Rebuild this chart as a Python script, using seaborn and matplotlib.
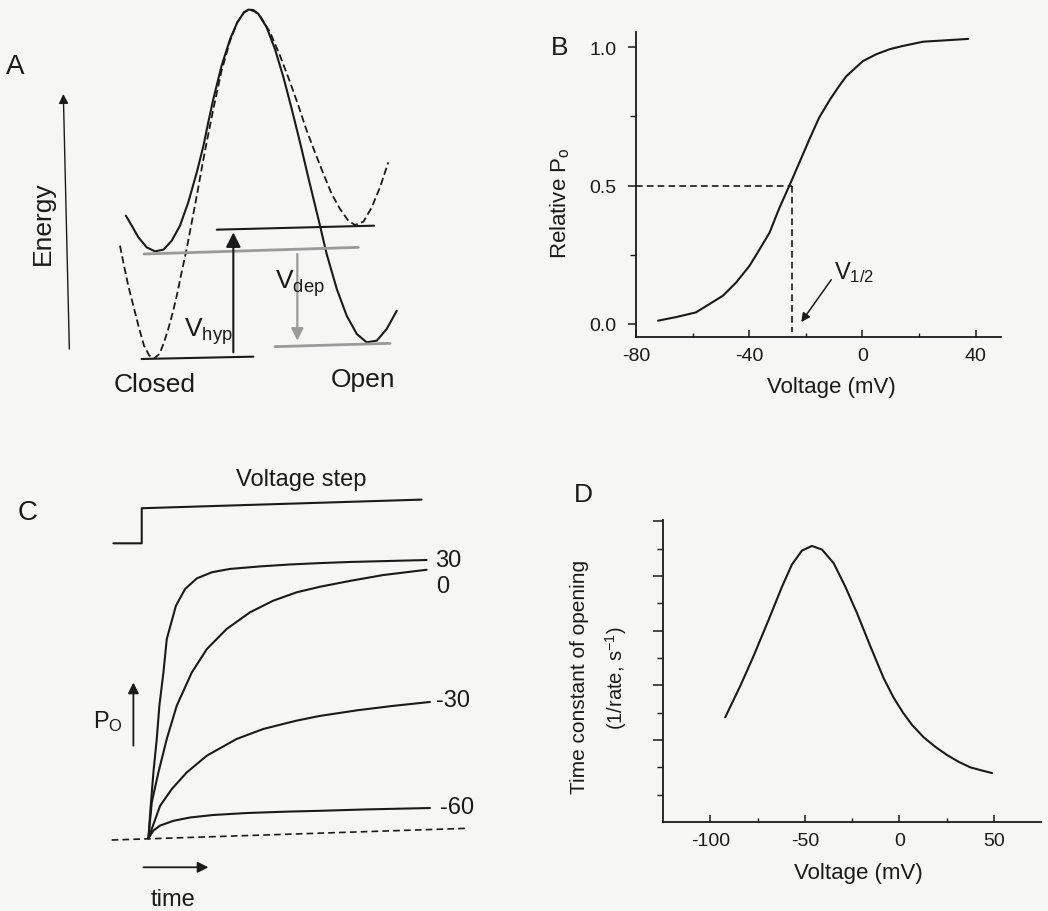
import matplotlib
matplotlib.use("Agg")
import matplotlib.pyplot as plt
import seaborn as sns

# ---- panel A: energy landscape (reaction coordinate vs energy, arbitrary units)
a_solid_q = [-0.03, 0.19, 0.44, 0.75, 1.06, 1.38, 1.69, 2.0, 2.31, 2.63, 2.88, 3.06, 3.25,
             3.56, 3.88, 4.15, 4.4, 4.56, 4.75, 4.94, 5.25, 5.56, 5.88, 6.19, 6.5, 6.81,
             7.19, 7.5, 7.88, 8.25, 8.63, 9.0, 9.38, 9.75, 10.13]
a_solid_e = [4.30, 4.00, 3.65, 3.35, 3.23, 3.28, 3.55, 4.00, 4.70, 5.60, 6.40, 7.10, 7.80,
             8.80, 9.60, 10.10, 10.40, 10.48, 10.47, 10.35, 9.95, 9.30, 8.45, 7.50, 6.50, 5.45,
             4.20, 3.15, 2.10, 1.30, 0.75, 0.50, 0.55, 0.90, 1.45]
a_dash_q = [-0.25, -0.1, 0.06, 0.25, 0.44, 0.65, 0.85, 1.03, 1.23, 1.4, 1.56, 1.73, 1.88,
            2.06, 2.25, 2.44, 2.63, 2.81, 3.0, 3.25, 3.56, 3.88, 4.15, 4.4, 4.6, 4.81, 5.0,
            5.38, 5.75, 6.13, 6.44, 6.73, 7.06, 7.38, 7.69, 8.0, 8.31, 8.56, 8.88, 9.19,
            9.5, 9.81]
a_dash_e = [3.40, 2.80, 2.20, 1.60, 1.00, 0.40, 0.10, 0.02, 0.15, 0.50, 0.90, 1.40, 1.90,
            2.60, 3.30, 4.10, 4.90, 5.70, 6.50, 7.50, 8.65, 9.55, 10.10, 10.40, 10.48, 10.42,
            10.30, 9.80, 9.10, 8.30, 7.60, 6.90, 6.20, 5.55, 4.95, 4.50, 4.15, 4.02, 4.12,
            4.55, 5.15, 5.90]
# energy levels: (q start, q end, E start, E end, colour)
a_levels = [
    (0.56, 4.75, 0.00, 0.07, "#1a1a1a"),
    (0.65, 8.69, 3.15, 3.35, "#9a9a9a"),
    (3.38, 9.28, 3.88, 4.00, "#1a1a1a"),
    (5.56, 9.88, 0.37, 0.47, "#9a9a9a"),
]

# ---- panel B: relative open probability vs voltage
b_voltage = [-72.2, -65.8, -58.8, -49.3, -44.6, -39.9, -36.6, -32.8, -29.5, -25.1, -22.4,
             -18.6, -15.3, -11.5, -8.2, -5.7, 0.2, 5.0, 9.7, 14.5, 21.5, 37.4]
b_po = [0.012, 0.025, 0.042, 0.102, 0.15, 0.21, 0.265, 0.33, 0.415, 0.516, 0.58,
        0.67, 0.745, 0.81, 0.86, 0.895, 0.95, 0.975, 0.993, 1.005, 1.02, 1.03]
b_vhalf = -25
b_xticks = [-80, -40, 0, 40]

# ---- panel C: time course of opening at several voltages (arbitrary units)
c_t_30 = [0, 0.84, 1.8, 3.0, 3.95, 5.4, 6.6, 9.9, 13.2, 17.4, 22.8, 29.3, 40.1, 50.9,
          61.7, 72.5, 100]
c_p_30 = [0, 0.117, 0.237, 0.357, 0.477, 0.596, 0.716, 0.836, 0.896, 0.934, 0.956, 0.968,
          0.977, 0.984, 0.989, 0.993, 1.0]
c_t_0 = [0, 1.2, 3.6, 6.6, 10.2, 15.6, 21.0, 28.1, 36.5, 44.9, 53.3, 61.7, 72.5, 84.4, 100]
c_p_0 = [0, 0.129, 0.237, 0.357, 0.477, 0.596, 0.680, 0.752, 0.812, 0.854, 0.884, 0.904,
         0.925, 0.946, 0.965]
c_t_m30 = [0, 4.2, 8.4, 13.8, 21.0, 31.7, 41.3, 53.3, 61.7, 75.0, 88.0, 101.2]
c_p_m30 = [0, 0.117, 0.177, 0.237, 0.297, 0.357, 0.393, 0.423, 0.440, 0.460, 0.476, 0.490]
c_t_m60 = [0, 1.8, 4.2, 9.0, 15.0, 23.4, 35.3, 49.7, 61.7, 78.4, 101.2]
c_p_m60 = [0, 0.028, 0.046, 0.063, 0.075, 0.084, 0.091, 0.096, 0.099, 0.104, 0.109]
c_labels = ["30", "0", "-30", "-60"]
c_step_t = [-12.6, -2.4, -2.4, 98.2]
c_step_v = [1.060, 1.060, 1.186, 1.217]
c_base_t = [-13.2, 114.4]
c_base_p = [-0.006, 0.036]

# ---- panel D: time constant vs voltage (arbitrary units)
d_voltage = [-92.1, -84.1, -77.1, -69.1, -65.6, -62.1, -56.8, -51.5, -46.2, -40.9, -34.7,
             -28.6, -22.4, -15.3, -8.3, -3.0, 2.0, 6.8, 12.9, 19.1, 25.3, 31.5, 37.6, 42.9, 49.1]
d_tau = [3.83, 4.98, 6.07, 7.4, 8.0, 8.6, 9.42, 9.93, 10.10, 9.97, 9.47,
         8.62, 7.65, 6.43, 5.27, 4.55, 4.0, 3.55, 3.1, 2.75, 2.45, 2.2, 2.0, 1.9, 1.79]
d_xticks = [-100, -50, 0, 50]

W, H = 1048, 912
PAPER = "#f6f6f4"
INK = "#1a1a1a"

sns.set_style("ticks", {"axes.edgecolor": INK, "xtick.color": INK, "ytick.color": INK,
                        "text.color": INK, "axes.labelcolor": INK})
plt.rcParams["font.family"] = ["Liberation Sans", "DejaVu Sans"]
plt.rcParams["mathtext.fontset"] = "custom"
plt.rcParams["mathtext.rm"] = "Liberation Sans"
plt.rcParams["mathtext.it"] = "Liberation Sans:italic"
plt.rcParams["axes.unicode_minus"] = False

fig = plt.figure(figsize=(W / 100, H / 100), dpi=100, facecolor=PAPER)


def place(x0, y0, x1, y1):
    ax = fig.add_axes([x0 / W, 1 - y1 / H, (x1 - x0) / W, (y1 - y0) / H])
    ax.set_facecolor("none")
    return ax


def arrow(ax, tail, head, color=INK, lw=1.3, scale=16):
    ax.annotate("", xy=head, xytext=tail,
                arrowprops=dict(arrowstyle="-|>", color=color, lw=lw,
                                mutation_scale=scale, shrinkA=0, shrinkB=0))


line_kw = dict(color=INK, linewidth=1.5, sort=False, estimator=None)

# ---------------- A
ax = place(0, 0, 420, 410)
ax.set_xlim(-4.75, 11.0)
ax.set_ylim(-1.5, 10.8)
ax.axis("off")
sns.lineplot(x=a_solid_q, y=a_solid_e, ax=ax, **line_kw)
sns.lineplot(x=a_dash_q, y=a_dash_e, ax=ax, color=INK, linewidth=1.3,
             linestyle=(0, (4, 2)), sort=False, estimator=None)
for q0, q1, e0, e1, col in a_levels:
    ax.plot([q0, q1], [e0, e1], color=col, lw=2.0 if col != INK else 1.5)
arrow(ax, (4.0, 0.2), (4.0, 3.8), lw=1.5, scale=22)
arrow(ax, (6.4, 3.15), (6.4, 0.55), color="#9a9a9a", lw=1.6, scale=18)
arrow(ax, (-2.15, 0.3), (-2.375, 7.95), lw=1.0, scale=14)
ax.text(3.06, 0.85, "V$_{\\mathrm{hyp}}$", fontsize=19, ha="center", va="center")
ax.text(6.5, 2.3, "V$_{\\mathrm{dep}}$", fontsize=19, ha="center", va="center")
ax.text(-3.125, 4.1, "Energy", fontsize=19, rotation=90, ha="center", va="center")
ax.text(1.06, -0.75, "Closed", fontsize=19, ha="center", va="center")
ax.text(8.88, -0.6, "Open", fontsize=19, ha="center", va="center")
fig.text(15 / W, 1 - 67 / H, "A", fontsize=20, ha="center", va="center")

# ---------------- B
ax = place(636, 33, 1001, 338)
sns.lineplot(x=b_voltage, y=b_po, ax=ax, **line_kw)
ax.plot([-80, b_vhalf], [0.5, 0.5], color=INK, lw=1.2, ls=(0, (4, 2.5)))
ax.plot([b_vhalf, b_vhalf], [0.5, -0.03], color=INK, lw=1.2, ls=(0, (4, 2.5)))
arrow(ax, (-11, 0.16), (-21.6, 0.007), lw=1.1, scale=13)
ax.text(-2.8, 0.188, "V$_{1/2}$", fontsize=17, ha="center", va="center")
ax.set_xlim(-80, 49)
ax.set_ylim(-0.047, 1.055)
ax.set_xticks(b_xticks)
ax.set_xticks([-60, -20, 20], minor=True)
ax.set_yticks([0.0, 0.5, 1.0])
ax.set_yticklabels(["0.0", "0.5", "1.0"])
ax.set_yticks([0.25, 0.75], minor=True)
ax.tick_params(axis="x", which="major", direction="in", length=5, width=1.1, pad=7, labelsize=14)
ax.tick_params(axis="x", which="minor", direction="in", length=3, width=1.0)
ax.tick_params(axis="y", which="major", direction="out", length=6, width=1.1, pad=8, labelsize=14)
ax.tick_params(axis="y", which="minor", direction="out", length=4, width=1.0)
sns.despine(ax=ax)
for s in ("left", "bottom"):
    ax.spines[s].set_linewidth(1.3)
ax.set_xlabel("Voltage (mV)", fontsize=16, va="center")
ax.xaxis.set_label_coords(0.536, -0.161)
ax.set_ylabel("Relative P$_{\\mathrm{o}}$", fontsize=16, va="center")
ax.yaxis.set_label_coords(-0.209, 0.443)
fig.text(560 / W, 1 - 48 / H, "B", fontsize=19, ha="center", va="center")

# ---------------- C
ax = place(100, 470, 480, 912)
ax.set_xlim(-17.4, 119.2)
ax.set_ylim(-0.261, 1.327)
ax.axis("off")
c_series = [(c_t_30, c_p_30), (c_t_0, c_p_0), (c_t_m30, c_p_m30), (c_t_m60, c_p_m60)]
c_label_pos = [(107.8, 1.0), (105.7, 0.908), (109.6, 0.498), (110.8, 0.111)]
for (t, p), lab, (lx, ly) in zip(c_series, c_labels, c_label_pos):
    sns.lineplot(x=t, y=p, ax=ax, **line_kw)
    ax.text(lx, ly, lab, fontsize=17, ha="center", va="center")
ax.plot(c_step_t, c_step_v, color=INK, lw=1.5)
ax.plot(c_base_t, c_base_p, color=INK, lw=1.2, ls=(0, (4, 2.5)))
ax.text(55.1, 1.291, "Voltage step", fontsize=17, ha="center", va="center")
arrow(ax, (-5.4, 0.333), (-5.4, 0.56), lw=1.3, scale=16)
ax.text(-14.4, 0.423, "P$_{\\mathrm{O}}$", fontsize=17, ha="center", va="center")
arrow(ax, (-1.8, -0.104), (21.6, -0.104), lw=1.3, scale=16)
ax.text(9.0, -0.218, "time", fontsize=17, ha="center", va="center")
fig.text(28 / W, 1 - 513 / H, "C", fontsize=20, ha="center", va="center")

# ---------------- D
ax = place(663, 521, 1041, 823)
sns.lineplot(x=d_voltage, y=d_tau, ax=ax, **line_kw)
ax.set_xlim(-125, 75)
ax.set_ylim(0, 11.05)
ax.set_xticks(d_xticks)
ax.set_xticks([-75, -25, 25], minor=True)
ax.set_yticks([3, 5, 7, 9, 11])
ax.set_yticks([1, 2, 4, 6, 8, 10], minor=True)
ax.set_yticklabels([])
ax.tick_params(axis="x", which="major", direction="in", length=5, width=1.1, pad=7, labelsize=14)
ax.tick_params(axis="x", which="minor", direction="in", length=3, width=1.0)
ax.tick_params(axis="y", which="major", direction="out", length=7, width=1.1)
ax.tick_params(axis="y", which="minor", direction="out", length=4, width=1.0)
sns.despine(ax=ax)
for s in ("left", "bottom"):
    ax.spines[s].set_linewidth(1.3)
ax.set_xlabel("Voltage (mV)", fontsize=16, va="center")
ax.xaxis.set_label_coords(0.516, -0.166)
ax.set_ylabel("Time constant of opening", fontsize=15, va="center")
ax.yaxis.set_label_coords(-0.22, 0.483)
ax.text(-0.124, 0.48, "(1/rate, s$^{-1}$)", fontsize=14.5, rotation=90,
        ha="center", va="center", transform=ax.transAxes)
fig.text(583 / W, 1 - 495 / H, "D", fontsize=19, ha="center", va="center")

fig.savefig("out.png", dpi=100, facecolor=PAPER)
